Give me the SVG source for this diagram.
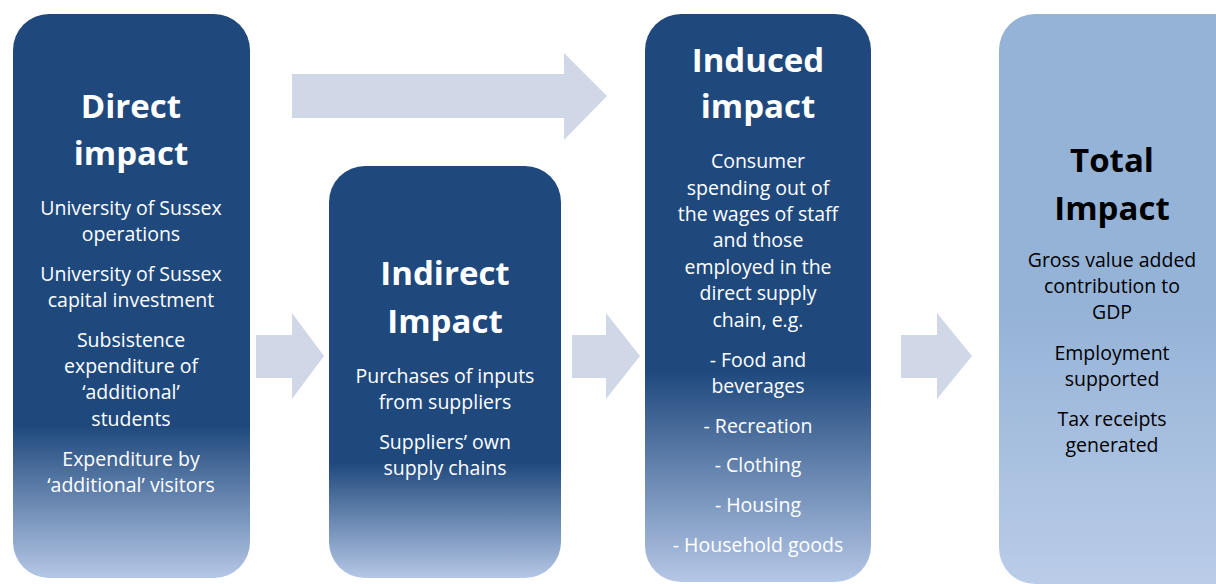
<svg xmlns="http://www.w3.org/2000/svg" width="1216" height="584" viewBox="0 0 1216 584">
<defs>
<linearGradient id="gDark1" x1="0" y1="0" x2="0" y2="1">
<stop offset="0" stop-color="#1F497D"/>
<stop offset="0.73" stop-color="#1F497D"/>
<stop offset="1" stop-color="#B5C7E6"/>
</linearGradient>
<linearGradient id="gDark2" x1="0" y1="0" x2="0" y2="1">
<stop offset="0" stop-color="#1F497D"/>
<stop offset="0.72" stop-color="#1F497D"/>
<stop offset="1" stop-color="#B5C7E6"/>
</linearGradient>
<linearGradient id="gDark3" x1="0" y1="0" x2="0" y2="1">
<stop offset="0" stop-color="#1F497D"/>
<stop offset="0.63" stop-color="#1F497D"/>
<stop offset="1" stop-color="#B5C7E6"/>
</linearGradient>
<linearGradient id="gLight" x1="0" y1="0" x2="0" y2="1">
<stop offset="0" stop-color="#95B3D7"/>
<stop offset="0.52" stop-color="#95B3D7"/>
<stop offset="1" stop-color="#BACCE8"/>
</linearGradient>
<style>
.arrow{fill:#D0D8E8}
text{font-family:"Open Sans",Lato,"Liberation Sans",sans-serif;text-anchor:middle}
.t{font-size:33px;font-weight:bold;fill:#FFFFFF}
.b{font-size:19.5px;fill:#FFFFFF}
.tk{font-size:33px;font-weight:bold;fill:#000000}
.bk{font-size:19.5px;fill:#000000}
</style>
</defs>
<rect width="1216" height="584" fill="#FFFFFF"/>
<g id="connectors">
<polygon class="arrow" points="292,74 564,74 564,53 607,96 564,140 564,118 292,118"/>
<polygon class="arrow" points="256,335 292,335 292,313 324,356 292,399 292,378 256,378"/>
<polygon class="arrow" points="572,335 606,335 606,313 640,356 606,399 606,378 572,378"/>
<polygon class="arrow" points="901,335 937,335 937,313 972,356 937,399 937,378 901,378"/>
</g>
<g id="direct">
<rect fill="url(#gDark1)" x="13" y="14" width="237" height="564" rx="36"/>
<text class="t" x="131" y="118">Direct</text>
<text class="t" x="131" y="165">impact</text>
<text class="b" x="131" y="215">University of Sussex</text>
<text class="b" x="131" y="241">operations</text>
<text class="b" x="131" y="281">University of Sussex</text>
<text class="b" x="131" y="307">capital investment</text>
<text class="b" x="131" y="347">Subsistence</text>
<text class="b" x="131" y="373">expenditure of</text>
<text class="b" x="131" y="399">‘additional’</text>
<text class="b" x="131" y="426">students</text>
<text class="b" x="131" y="466">Expenditure by</text>
<text class="b" x="131" y="492">‘additional’ visitors</text>
</g>
<g id="indirect">
<rect fill="url(#gDark2)" x="329" y="166" width="232" height="412" rx="36"/>
<text class="t" x="445" y="285">Indirect</text>
<text class="t" x="445" y="333">Impact</text>
<text class="b" x="445" y="383">Purchases of inputs</text>
<text class="b" x="445" y="409">from suppliers</text>
<text class="b" x="445" y="449">Suppliers’ own</text>
<text class="b" x="445" y="475">supply chains</text>
</g>
<g id="induced">
<rect fill="url(#gDark3)" x="645" y="14" width="226" height="568" rx="36"/>
<text class="t" x="758" y="72">Induced</text>
<text class="t" x="758" y="118">impact</text>
<text class="b" x="758" y="168">Consumer</text>
<text class="b" x="758" y="195">spending out of</text>
<text class="b" x="758" y="221">the wages of staff</text>
<text class="b" x="758" y="247">and those</text>
<text class="b" x="758" y="274">employed in the</text>
<text class="b" x="758" y="300">direct supply</text>
<text class="b" x="758" y="327">chain, e.g.</text>
<text class="b" x="758" y="367">- Food and</text>
<text class="b" x="758" y="393">beverages</text>
<text class="b" x="758" y="433">- Recreation</text>
<text class="b" x="758" y="472">- Clothing</text>
<text class="b" x="758" y="512">- Housing</text>
<text class="b" x="758" y="552">- Household goods</text>
</g>
<g id="total">
<rect fill="url(#gLight)" x="999" y="14" width="250" height="570" rx="36"/>
<text class="tk" x="1112" y="172">Total</text>
<text class="tk" x="1112" y="220">Impact</text>
<text class="bk" x="1112" y="267">Gross value added</text>
<text class="bk" x="1112" y="293">contribution to</text>
<text class="bk" x="1112" y="319">GDP</text>
<text class="bk" x="1112" y="360">Employment</text>
<text class="bk" x="1112" y="386">supported</text>
<text class="bk" x="1112" y="426">Tax receipts</text>
<text class="bk" x="1112" y="452">generated</text>
</g>
</svg>
